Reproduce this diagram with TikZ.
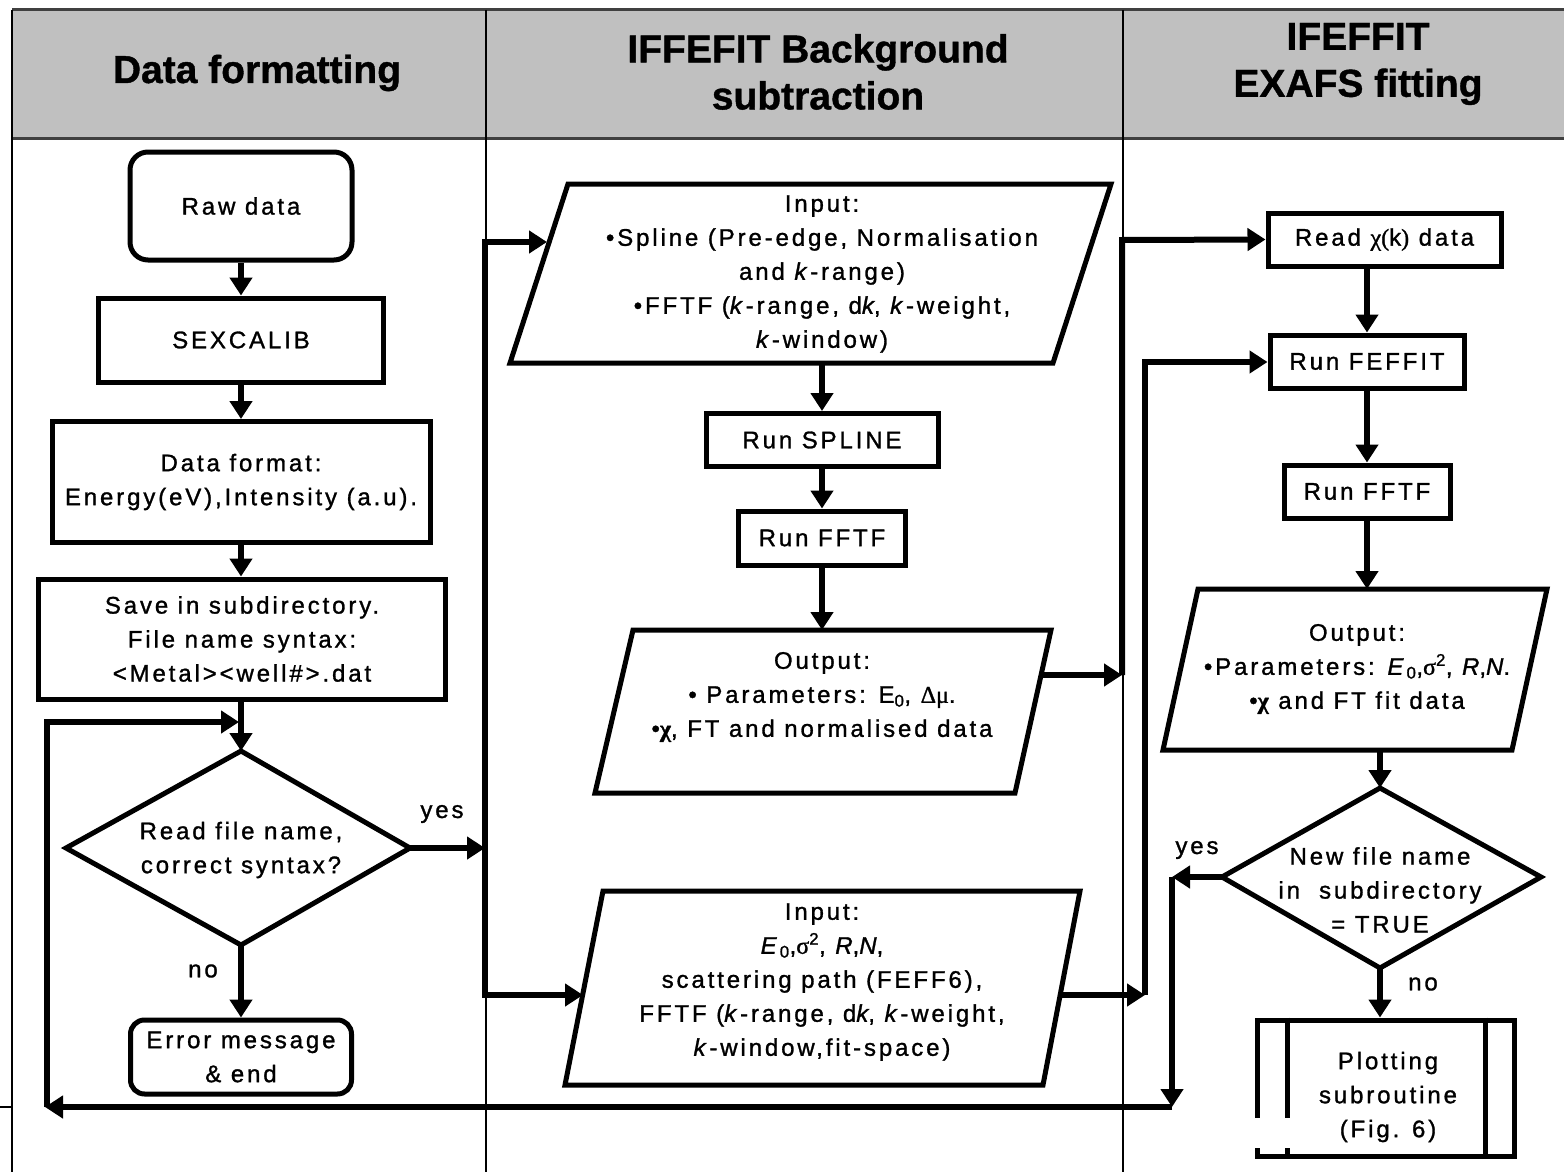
\documentclass[tikz,border=0pt]{standalone}
\usepackage{amsmath}
\usepackage{fontspec}
\setmainfont[LetterSpace=12,FakeBold=1.2]{Liberation Sans}
\newfontfamily\hdfont[FakeBold=1]{Liberation Sans}
\newfontfamily\grk[FakeBold=1.2]{Liberation Serif}
\usetikzlibrary{arrows.meta}
\definecolor{hdgray}{HTML}{C0C0C0}
\definecolor{rulegray}{HTML}{404040}
\begin{document}
\begin{tikzpicture}[x=1pt,y=-1pt,
  box/.style={draw, line width=5pt, inner sep=0pt, align=center, font=\fontsize{24}{34}\selectfont},
  shp/.style={draw, line width=5pt, line join=miter},
  txt/.style={align=center, inner sep=0pt, font=\fontsize{24}{34}\selectfont},
  lbl/.style={inner sep=0pt, font=\fontsize{24}{34}\selectfont},
  conn/.style={line width=6pt, line join=miter, -{Triangle[length=18pt,width=22pt]}},
  conn2/.style={line width=6pt, line join=miter, {Triangle[length=18pt,width=22pt]}-{Triangle[length=18pt,width=22pt]}},
  hd/.style={font=\hdfont\bfseries\fontsize{39}{47}\selectfont, align=center, inner sep=0pt}
]
\useasboundingbox (0,0) rectangle (1564,1172);
\fill[white] (0,0) rectangle (1564,1172);
% header band and frame
\fill[hdgray] (12,10) rectangle (1564,138);
\draw[line width=3pt, rulegray] (12,10) -- (1564,10);
\draw[line width=3pt, rulegray] (12,138) -- (1564,138);
\draw[line width=1.5pt] (12,10) -- (12,1172);
\draw[line width=1.5pt] (486,10) -- (486,1172);
\draw[line width=1.5pt] (1123,10) -- (1123,1172);
\draw[line width=1.5pt] (0,1107) -- (12,1107);
\node[hd] (h1) at (257,73) {Data formatting};
\node[hd] (h2) at (818,72) {IFFEFIT Background\\subtraction};
\node[hd] (h3) at (1358,64) {IFEFFIT\\EXAFS fitting};

% ---------- column 1 ----------
\node[box, rounded corners=18pt, minimum width=222pt, minimum height=108pt] (raw) at (241,206) {Raw data};
\node[box, minimum width=285pt, minimum height=84pt] (sex) at (241,340) {SEXCALIB};
\node[box, minimum width=378pt, minimum height=121pt] (fmt) at (241,482) {Data format:\\Energy(eV),Intensity (a.u).};
\node[box, minimum width=407pt, minimum height=120pt] (save) at (242,639) {Save in subdirectory.\\File name syntax:\\<Metal><well\#>.dat};
\coordinate (d1t) at (241,751);
\coordinate (d1r) at (410,848);
\coordinate (d1b) at (241,945);
\coordinate (d1l) at (66,848);
\draw[shp] (d1t) -- (d1r) -- (d1b) -- (d1l) -- cycle;
\node[txt] (d1) at (241,850) {Read file name,\\correct syntax?};
\node[box, rounded corners=14pt, minimum width=221pt, minimum height=74pt] (err) at (241,1057) {Error message\\\& end};

\draw[conn] (raw.south) -- (sex.north);
\draw[conn] (sex.south) -- (fmt.north);
\draw[conn] (fmt.south) -- (fmt.south |- save.north);
\draw[conn] (save.south -| d1t) -- (d1t);
\draw[conn] (d1b) -- (err.north);
\node[lbl] (no1) at (203,971) {no};
\coordinate (bus1) at (485,848);
\draw[conn] (d1r) -- (bus1);
\node[lbl] (yes1) at (442,814) {yes};

% ---------- column 2 ----------
\coordinate (in1l) at (547,242);
\coordinate (b1top) at (485,242);
\coordinate (b1bot) at (485,995);
\coordinate (in2l) at (583,995);
\draw[conn2] (in1l) -- (b1top) -- (b1bot) -- (in2l);

\draw[shp] (568,184) -- (1111,184) -- (1053,363) -- (510,363) -- cycle;
\node[txt] (in1) at (822,274) {Input:\\{\textbullet}Spline (Pre-edge, Normalisation\\and \textit{k}-range)\\{\textbullet}FFTF (\textit{k}-range, d\textit{k}, \textit{k}-weight,\\\textit{k}-window)};
\coordinate (in1b) at (822,363);
\node[box, minimum width=232pt, minimum height=53pt] (spl) at (822,440) {Run SPLINE};
\node[box, minimum width=167pt, minimum height=54pt] (fftf1) at (822,538) {Run FFTF};
\draw[shp] (633,630) -- (1051,630) -- (1015,793) -- (595,793) -- cycle;
\node[txt] (out1) at (822,697) {Output:\\{\textbullet} Parameters: E\textsubscript{0}, {\grk Δμ}.\\{\textbullet}{\grk\bfseries χ}, FT and normalised data};
\coordinate (out1t) at (822,630);
\coordinate (out1r) at (1041,675);
\draw[shp] (603,891) -- (1080,891) -- (1043,1085) -- (565,1085) -- cycle;
\node[txt] (in2) at (822,982) {Input:\\\textit{E}\textsubscript{0},{\grk σ}\textsuperscript{2}, \textit{R},\textit{N},\\scattering path (FEFF6),\\FFTF (\textit{k}-range, d\textit{k}, \textit{k}-weight,\\\textit{k}-window,fit-space)};
\coordinate (in2r) at (1060,995);

\draw[conn] (in1b) -- (spl.north);
\draw[conn] (spl.south) -- (fftf1.north);
\draw[conn] (fftf1.south) -- (out1t);

% ---------- column 3 ----------
\node[box, minimum width=233pt, minimum height=53pt] (read) at (1384.5,239.5) {Read {\grk χ(}k{\grk )} data};
\node[box, minimum width=194pt, minimum height=53pt] (feff) at (1367,361.5) {Run FEFFIT};
\node[box, minimum width=166pt, minimum height=53pt] (fftf2) at (1367,491.5) {Run FFTF};
\draw[shp] (1198,589) -- (1547,589) -- (1512,750) -- (1163,750) -- cycle;
\node[txt] (out3) at (1357,669) {Output:\\{\textbullet}Parameters: \textit{E}\textsubscript{0},{\grk σ}\textsuperscript{2}, \textit{R},\textit{N}.\\{\textbullet}{\grk\bfseries χ} and FT fit data};
\coordinate (out3t) at (1367,589);
\coordinate (out3b) at (1380,750);
\coordinate (d2t) at (1380,788);
\coordinate (d2r) at (1541,877);
\coordinate (d2b) at (1380,968);
\coordinate (d2l) at (1222,877);
\draw[shp] (d2t) -- (d2r) -- (d2b) -- (d2l) -- cycle;
\node[txt] (d2) at (1380,890) {New file name\\in\ \ subdirectory\\= TRUE};
\node[box, minimum width=257pt, minimum height=136pt] (plot) at (1385.5,1088) {};
\draw[line width=5pt] ([xshift=33pt]plot.north west) -- ([xshift=33pt]plot.south west);
\draw[line width=5pt] ([xshift=-31pt]plot.north east) -- ([xshift=-31pt]plot.south east);
\fill[white] (1251,1118) rectangle (1292,1148);
\node[txt] (plottxt) at (1388,1097) {Plotting\\subroutine\\(Fig. 6)};

\draw[conn] (read.south -| feff.north) -- (feff.north);
\draw[conn] (feff.south) -- (fftf2.north);
\draw[conn] (fftf2.south) -- (out3t);
\draw[conn] (out3b) -- (d2t);
\draw[conn] (d2b) -- (d2b |- plot.north);
\node[lbl] (no2) at (1423,984) {no};
\node[lbl] (yes2) at (1197,850) {yes};

% cross-column connectors
\coordinate (b2a) at (1122,675);
\coordinate (b2top) at (1122,240);
\draw[conn] (out1r) -- (b2a);
\draw[conn] (b2a) -- (b2top) -- (read.west);
\coordinate (b3a) at (1145,995);
\coordinate (b3top) at (1145,362);
\draw[conn] (in2r) -- (b3a);
\draw[conn] (b3a) -- (b3top) -- (b3top -| feff.west) ;

% loop back
\coordinate (lp1) at (1172,877);
\coordinate (lp2) at (1172,1107);
\coordinate (lp3) at (45,1107);
\coordinate (lp4) at (47,1107);
\coordinate (lp5) at (47,722);
\coordinate (lp6) at (239,722);
\draw[conn] (d2l) -- (lp1);
\draw[conn] (lp1) -- (lp2);
\draw[conn] (lp2) -- (lp3);
\draw[conn] (lp4) -- (lp5) -- (lp6);
\end{tikzpicture}
\end{document}
